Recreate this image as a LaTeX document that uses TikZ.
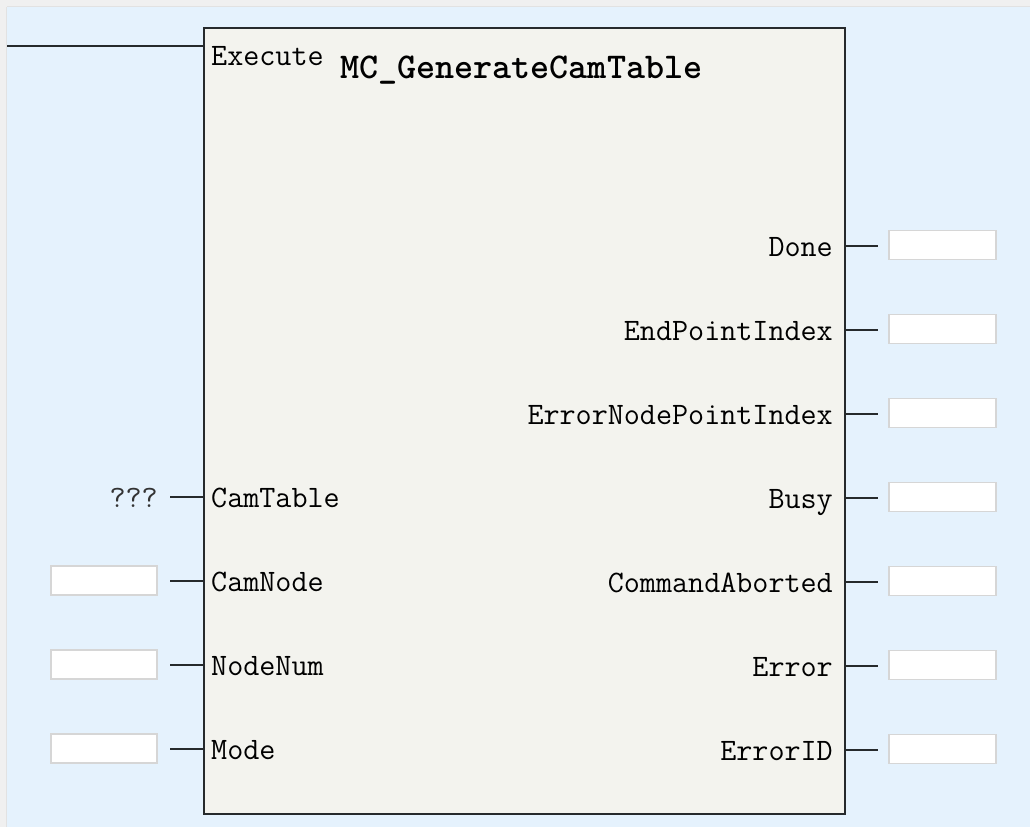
\documentclass[tikz,border=0pt]{standalone}
\definecolor{bgblue}{HTML}{E5F2FD}
\definecolor{outergray}{HTML}{F0F0F0}
\definecolor{edgegray}{HTML}{E2E2E2}
\definecolor{blockfill}{HTML}{F3F3EE}
\definecolor{blockline}{HTML}{262A2C}
\definecolor{boxline}{HTML}{D6D6D6}
\tikzset{
  fblock/.style={draw=blockline, fill=blockfill, line width=2.2pt, inner sep=0pt, anchor=north west},
  pinlabel/.style={inner sep=0pt, font=\fontsize{31.2}{34}\selectfont\ttfamily, text=black},
  titlelabel/.style={inner sep=0pt, font=\fontsize{36.3}{40}\selectfont\ttfamily\bfseries, text=black},
  valbox/.style={draw=boxline, fill=white, line width=1.8pt, minimum width=106pt, minimum height=29pt, inner sep=0pt},
  stub/.style={draw=blockline, line width=2.2pt}
}
\begin{document}
\begin{tikzpicture}[x=1pt,y=-1pt]
\useasboundingbox (0,0) rectangle (1030,827);
\fill[outergray] (0,0) rectangle (1030,827);
\fill[bgblue] (7,7) rectangle (1030,827);
\draw[edgegray, line width=1pt] (7,6.5) -- (1030,6.5);
\draw[edgegray, line width=1pt] (6.5,7) -- (6.5,827);

% function block
\node[fblock, minimum width=641pt, minimum height=786pt] (fb) at (203,27) {};

% Execute input
\coordinate (exIn) at (203,46);
\coordinate (exEnd) at (7,46);
\draw[stub] (exEnd) -- (exIn);
\node[pinlabel, anchor=base west] (lExecute) at (211,65) {Execute};
\node[titlelabel, anchor=base west] (title) at (340,78) {MC\_GenerateCamTable};

% left inputs
\node[pinlabel, anchor=base west] (lCamTable) at (211,507) {CamTable};
\node[pinlabel, anchor=base west] (lCamNode) at (211,591) {CamNode};
\node[pinlabel, anchor=base west] (lNodeNum) at (211,675) {NodeNum};
\node[pinlabel, anchor=base west] (lMode) at (211,759) {Mode};

\coordinate (pCamTable) at (203,497);
\coordinate (pCamNode) at (203,581);
\coordinate (pNodeNum) at (203,665);
\coordinate (pMode) at (203,749);
\coordinate (sCamTable) at (170,497);
\coordinate (sCamNode) at (170,581);
\coordinate (sNodeNum) at (170,665);
\coordinate (sMode) at (170,749);
\draw[stub] (sCamTable) -- (pCamTable);
\draw[stub] (sCamNode) -- (pCamNode);
\draw[stub] (sNodeNum) -- (pNodeNum);
\draw[stub] (sMode) -- (pMode);

\node[pinlabel, anchor=base east, text=black!80] (qCamTable) at (158,507) {???};
\node[valbox] (bCamNode) at (104,580.5) {};
\node[valbox] (bNodeNum) at (104,664.5) {};
\node[valbox] (bMode) at (104,748.5) {};

% right outputs
\node[pinlabel, anchor=base east] (lDone) at (833,256) {Done};
\node[pinlabel, anchor=base east] (lEndPointIndex) at (833,340) {EndPointIndex};
\node[pinlabel, anchor=base east] (lErrorNodePointIndex) at (833,424) {ErrorNodePointIndex};
\node[pinlabel, anchor=base east] (lBusy) at (833,508) {Busy};
\node[pinlabel, anchor=base east] (lCommandAborted) at (833,592) {CommandAborted};
\node[pinlabel, anchor=base east] (lError) at (833,676) {Error};
\node[pinlabel, anchor=base east] (lErrorID) at (833,760) {ErrorID};

\foreach \n/\y in {Done/246, EndPointIndex/330, ErrorNodePointIndex/414, Busy/498, CommandAborted/582, Error/666, ErrorID/750} {
  \coordinate (p\n) at (844,\y);
  \coordinate (s\n) at (878,\y);
  \draw[stub] (p\n) -- (s\n);
  \node[valbox, minimum width=107pt] (b\n) at (942.5,\y-1) {};
}
\end{tikzpicture}
\end{document}
